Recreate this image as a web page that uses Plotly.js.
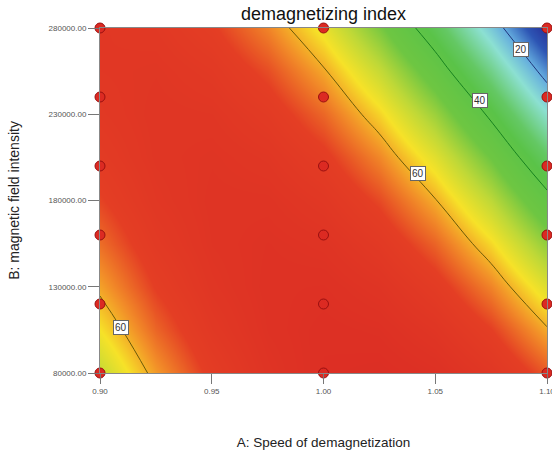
<!DOCTYPE html>
<html>
<head>
<meta charset="utf-8">
<script src="https://cdn.plot.ly/plotly-3.0.1.min.js"></script>
<style>html,body{margin:0;padding:0;background:#fff;}#chart{width:552px;height:452px;}</style>
</head>
<body>
<div id="chart"></div>
<script>
// A: Speed of demagnetization (x), B: magnetic field intensity (y)
var speedValues = [0.9, 0.925, 0.95, 0.975, 1.0, 1.025, 1.05, 1.075, 1.1];
var fieldValues = [80000, 105000, 130000, 155000, 180000, 205000, 230000, 255000, 280000];
// demagnetizing index (rows follow fieldValues)
var indexRow80000  = [52.56, 61.29, 67.99, 72.64, 75.26, 75.84, 74.39, 70.89, 65.36];
var indexRow105000 = [56.99, 64.55, 70.07, 73.55, 75.00, 74.40, 71.77, 67.10, 60.40];
var indexRow130000 = [60.82, 67.20, 71.54, 73.85, 74.12, 72.35, 68.54, 62.70, 54.82];
var indexRow155000 = [64.02, 69.22, 72.39, 73.52, 72.62, 69.67, 64.69, 57.67, 48.62];
var indexRow180000 = [66.60, 70.63, 72.63, 72.58, 70.50, 66.38, 60.23, 52.03, 41.80];
var indexRow205000 = [68.57, 71.42, 72.24, 71.02, 67.77, 62.47, 55.14, 45.77, 34.37];
var indexRow230000 = [69.92, 71.60, 71.24, 68.85, 64.42, 57.95, 49.44, 38.90, 26.32];
var indexRow255000 = [70.65, 71.15, 69.62, 66.05, 60.45, 52.80, 43.12, 31.40, 17.65];
var indexRow280000 = [70.76, 70.09, 67.39, 62.64, 55.86, 47.04, 36.19, 23.29, 8.36];
// design points
var designSpeed = [0.9,0.9,0.9,0.9,0.9,0.9, 1.0,1.0,1.0,1.0,1.0,1.0, 1.1,1.1,1.1,1.1,1.1,1.1];
var designField = [80000,120000,160000,200000,240000,280000, 80000,120000,160000,200000,240000,280000, 80000,120000,160000,200000,240000,280000];
// contour levels
var contourLevels = [20, 40, 60];
// contour label texts and where they sit
var labelTexts = ['20', '40', '60', '60'];
var labelSpeed = [1.0884, 1.0701, 1.0424, 0.9094];
var labelField = [267800, 237700, 195900, 106100];
// x / y tick values
var xTicks = [0.90, 0.95, 1.00, 1.05, 1.10];
var yTicks = [80000, 130000, 180000, 230000, 280000];

var zGrid = [indexRow80000, indexRow105000, indexRow130000, indexRow155000, indexRow180000,
             indexRow205000, indexRow230000, indexRow255000, indexRow280000];

var zMin = 8, zMax = 76;
function stop(v){ return (v - zMin) / (zMax - zMin); }
var colorscale = [
  [0, 'rgb(38,46,150)'],
  [stop(14), 'rgb(45,85,180)'],
  [stop(20), 'rgb(100,172,222)'],
  [stop(26), 'rgb(140,224,210)'],
  [stop(34), 'rgb(100,200,100)'],
  [stop(38), 'rgb(90,195,72)'],
  [stop(46), 'rgb(110,198,66)'],
  [stop(52), 'rgb(190,216,55)'],
  [stop(57), 'rgb(246,226,40)'],
  [stop(62), 'rgb(242,142,40)'],
  [stop(67), 'rgb(228,62,36)'],
  [1, 'rgb(220,46,36)']
];
var lineColors = {20: '#20357a', 40: '#17821f', 60: '#6a5a08'};

var traces = [{
  type: 'contour', x: speedValues, y: fieldValues, z: zGrid,
  zmin: zMin, zmax: zMax, zauto: false, colorscale: colorscale,
  contours: {coloring: 'heatmap', showlines: false},
  line: {width: 0}, showscale: false, hoverinfo: 'skip'
}];
contourLevels.forEach(function(lv){
  traces.push({
    type: 'contour', x: speedValues, y: fieldValues, z: zGrid,
    contours: {coloring: 'none', start: lv, end: lv, size: 20, showlines: true},
    line: {color: lineColors[lv], width: 1, smoothing: 1.3},
    showscale: false, hoverinfo: 'skip'
  });
});
traces.push({
  type: 'scatter', mode: 'markers', x: designSpeed, y: designField,
  cliponaxis: false,
  marker: {size: 10, color: '#dc2a22', line: {color: '#9a1010', width: 1}},
  hoverinfo: 'skip', showlegend: false
});

var annotations = labelTexts.map(function(t, i){
  return {x: labelSpeed[i], y: labelField[i], xref: 'x', yref: 'y', text: t, showarrow: false,
    font: {family: 'Liberation Sans, Arial, sans-serif', size: 10, color: '#333'},
    bgcolor: '#ffffff', bordercolor: '#666', borderwidth: 1, borderpad: 1};
});

var tickFont = {family: 'Liberation Sans, Arial, sans-serif', size: 8, color: '#555'};
var layout = {
  width: 552, height: 452,
  margin: {l: 100, r: 5, t: 28, b: 79},
  paper_bgcolor: '#fff', plot_bgcolor: '#fff',
  showlegend: false,
  font: {family: 'Liberation Sans, Arial, sans-serif'},
  title: {text: 'demagnetizing index', font: {size: 18, color: '#111'},
          x: 0.5, xref: 'paper', y: 1 - 14/452, yref: 'container', yanchor: 'middle'},
  xaxis: {range: [0.9, 1.1], tickvals: xTicks, tickformat: '.2f', ticks: 'outside', ticklen: 10,
          tickcolor: '#777', showline: true, linecolor: '#888', mirror: true, showgrid: false,
          zeroline: false, tickfont: tickFont, automargin: false, ticklabeloverflow: 'allow',
          title: {text: 'A: Speed of demagnetization', font: {size: 13.5, color: '#222'}, standoff: 42}},
  yaxis: {range: [80000, 280000], tickvals: yTicks, tickformat: '.2f', ticks: 'outside', ticklen: 11,
          tickcolor: '#777', showline: true, linecolor: '#888', mirror: true, showgrid: false,
          zeroline: false, tickfont: tickFont, automargin: false, ticklabeloverflow: 'allow',
          title: {text: 'B: magnetic field intensity', font: {size: 14, color: '#222'}, standoff: 25}},
  annotations: annotations
};
Plotly.newPlot('chart', traces, layout, {staticPlot: true, displayModeBar: false});
</script>
</body>
</html>
